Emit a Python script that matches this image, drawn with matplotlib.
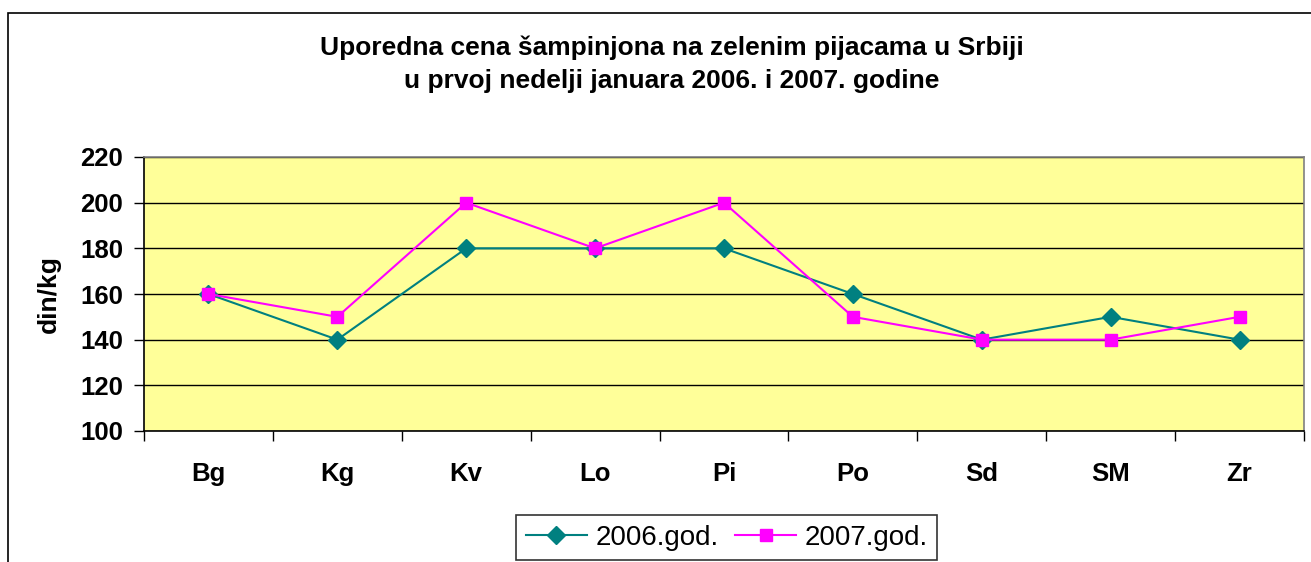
import matplotlib
matplotlib.use("Agg")
import matplotlib.pyplot as plt
from matplotlib.patches import Rectangle

categories = ["Bg", "Kg", "Kv", "Lo", "Pi", "Po", "Sd", "SM", "Zr"]
values_2006 = [160, 140, 180, 180, 180, 160, 140, 150, 140]
values_2007 = [160, 150, 200, 180, 200, 150, 140, 140, 150]
series_labels = ["2006.god.", "2007.god."]
y_ticks = [100, 120, 140, 160, 180, 200, 220]

plt.rcParams['font.family'] = ['Liberation Sans', 'DejaVu Sans']

W, H = 1311, 562
fig = plt.figure(figsize=(W / 100, H / 100), dpi=100)

# outer chart frame
fig.patches.append(Rectangle((8 / W, -0.1), 1.2, (H - 13) / H + 0.1,
                             transform=fig.transFigure, fill=False,
                             edgecolor='black', linewidth=1.2, zorder=0))

ax = fig.add_axes([144 / W, (H - 431) / H, 1160 / W, 274 / H])
ax.set_facecolor('#FFFF99')

x = list(range(len(categories)))
ax.plot(x, values_2006, color='#008080', marker='D', markersize=9,
        linewidth=1.5, label=series_labels[0], zorder=3)
ax.plot(x, values_2007, color='#FF00FF', marker='s', markersize=9,
        linewidth=1.5, label=series_labels[1], zorder=4)

ax.set_xlim(-0.5, len(categories) - 0.5)
ax.set_ylim(100, 220)
ax.set_yticks(y_ticks)
ax.set_yticklabels([str(v) for v in y_ticks], fontsize=18.5, fontweight='bold')
ax.yaxis.grid(True, color='black', linewidth=1)
ax.set_axisbelow(True)

ax.set_xticks([i - 0.5 for i in range(len(categories) + 1)])
ax.set_xticklabels([])
ax.set_xticks(x, minor=True)
ax.set_xticklabels(categories, minor=True, fontsize=18.5, fontweight='bold')
ax.tick_params(axis='x', which='minor', length=0, pad=22)
ax.tick_params(axis='x', which='major', length=7, width=1, direction='out')
ax.tick_params(axis='y', length=7, width=1, direction='out', pad=8)

for s in ['top', 'right']:
    ax.spines[s].set_color('#808080')
    ax.spines[s].set_linewidth(1.2)
for s in ['left', 'bottom']:
    ax.spines[s].set_color('black')
    ax.spines[s].set_linewidth(1.2)

ax.set_ylabel('din/kg', fontsize=19, fontweight='bold', labelpad=14)

fig.text(672 / W, 1 - 64 / H,
         'Uporedna cena šampinjona na zelenim pijacama u Srbiji\n'
         'u prvoj nedelji januara 2006. i 2007. godine',
         ha='center', va='center', fontsize=19, fontweight='bold',
         linespacing=1.45)

leg = fig.legend(loc='upper left', bbox_to_anchor=(516 / W, 1 - 515 / H),
                 ncol=2, fontsize=20, frameon=True, fancybox=False,
                 edgecolor='black', handlelength=2.2, handletextpad=0.3,
                 columnspacing=0.6, borderpad=0.35, borderaxespad=0)
leg.get_frame().set_linewidth(1.2)

fig.savefig('out.png', dpi=100)
